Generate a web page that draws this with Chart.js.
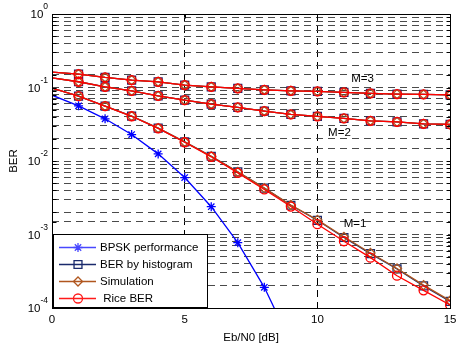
<!DOCTYPE html>
<html>
<head>
<meta charset="utf-8">
<script src="https://cdn.jsdelivr.net/npm/chart.js@4/dist/chart.umd.min.js"></script>
<style>
  html, body { margin: 0; padding: 0; background: #fff; }
  #wrap { width: 457px; height: 345px; position: relative; }
</style>
</head>
<body>
<div id="wrap"><canvas id="chart"></canvas></div>
<script>
// Eb/N0 in dB
const ebn0 = [0, 1, 2, 3, 4, 5, 6, 7, 8, 9, 10, 11, 12, 13, 14, 15]

// theoretical BPSK (AWGN)
const bpsk = [0.0786, 0.0563, 0.0375, 0.0229, 0.0125, 0.00595, 0.00239, 0.000773, 0.000191, 0.0000336]

// M=1
const histM1 = [0.098, 0.0763, 0.0558, 0.0408, 0.028, 0.0182, 0.0116, 0.0071, 0.00427, 0.0025, 0.00156, 0.00091, 0.00055, 0.00034, 0.0002, 0.000123]
const simM1  = [0.098, 0.0763, 0.0558, 0.0408, 0.028, 0.0182, 0.0116, 0.0071, 0.00428, 0.00252, 0.00158, 0.00093, 0.00056, 0.000345, 0.000205, 0.000126]
const riceM1 = [0.098, 0.0763, 0.0558, 0.0406, 0.0278, 0.018, 0.0114, 0.0069, 0.0041, 0.0024, 0.00138, 0.00081, 0.000484, 0.000275, 0.000174, 0.00011]

// M=2
const histM2 = [0.1356, 0.1197, 0.102, 0.090, 0.077, 0.0673, 0.0594, 0.0536, 0.0478, 0.043, 0.0404, 0.038, 0.0352, 0.0341, 0.032, 0.0314]
const riceM2 = [0.1356, 0.1197, 0.102, 0.090, 0.077, 0.0673, 0.0594, 0.0536, 0.0478, 0.043, 0.0404, 0.038, 0.0352, 0.0341, 0.032, 0.0314]

// M=3
const histM3 = [0.162, 0.152, 0.137, 0.126, 0.1196, 0.108, 0.102, 0.0973, 0.093, 0.0902, 0.0885, 0.0857, 0.083, 0.0813, 0.0805, 0.0792]
const riceM3 = [0.162, 0.152, 0.137, 0.126, 0.1196, 0.108, 0.102, 0.0973, 0.093, 0.0902, 0.0885, 0.0857, 0.083, 0.0813, 0.0805, 0.0792]

const xTicks = [0, 5, 10, 15]
const yDecades = [0, -1, -2, -3, -4]

const notes = [
  { text: 'M=3', x: 11.7, y: 0.13 },
  { text: 'M=2', x: 10.83, y: 0.024 },
  { text: 'M=1', x: 11.42, y: 0.0014 }
]

const legendItems = [
  { label: 'BPSK performance', color: '#4848ff', style: 'star' },
  { label: 'BER by histogram', color: '#1a2a6c', style: 'rect' },
  { label: 'Simulation', color: '#b0561e', style: 'rectRot' },
  { label: ' Rice BER', color: '#ff1a1a', style: 'circle' }
]

const FONT = "'Liberation Sans', Arial, Helvetica, sans-serif"

const toPoints = (vals) => vals.map((v, i) => ({ x: ebn0[i], y: v }))
const radii = (n, r) => ebn0.slice(0, n).map((x) => x === 0 ? 0 : r)

const series = (vals, color, style, r, order) => ({
  data: toPoints(vals),
  borderColor: color,
  backgroundColor: 'rgba(0,0,0,0)',
  borderWidth: 1.3,
  pointStyle: style,
  pointRadius: radii(vals.length, r),
  pointBorderColor: color,
  pointBackgroundColor: 'rgba(0,0,0,0)',
  pointBorderWidth: 1.3,
  tension: 0,
  order: order
})

const NAVY = '#1a2a6c'
const BROWN = '#b0561e'
const RED = '#ff0000'
const BLUE = '#0000ff'

const datasets = [
  series(bpsk, BLUE, 'star', 4.5, 0),
  series(histM1, NAVY, 'rect', 5.6, 3),
  series(histM2, NAVY, 'rect', 5.6, 3),
  series(histM3, NAVY, 'rect', 5.6, 3),
  series(simM1, BROWN, 'rectRot', 4.5, 2),
  series(histM2, BROWN, 'rectRot', 4.5, 2),
  series(histM3, BROWN, 'rectRot', 4.5, 2),
  series(riceM1, RED, 'circle', 4.5, 1),
  series(riceM2, RED, 'circle', 4.5, 1),
  series(riceM3, RED, 'circle', 4.5, 1)
]

const drawMarker = (ctx, style, color, x, y) => {
  Chart.helpers.drawPoint(ctx, {
    pointStyle: style,
    radius: style === 'rect' ? 5.6 : 4.5,
    borderWidth: 1.2,
    rotation: 0
  }, x, y)
}

const decorations = {
  id: 'decorations',
  afterDraw: (chart) => {
    const ctx = chart.ctx
    const area = chart.chartArea
    const xs = chart.scales.x
    const ys = chart.scales.y
    const L = Math.round(area.left) + 0.5
    const R = Math.round(area.right) + 0.5
    const T = Math.round(area.top) + 0.5
    const B = Math.round(area.bottom) + 0.5

    ctx.save()

    // plot box
    ctx.strokeStyle = '#000'
    ctx.lineWidth = 1
    ctx.setLineDash([])
    ctx.strokeRect(L, T, R - L, B - T)

    // inward tick marks on left and right
    ctx.beginPath()
    for (let i = 0; i < ys.ticks.length; i++) {
      const py = Math.round(ys.getPixelForValue(ys.ticks[i].value)) + 0.5
      ctx.moveTo(L, py); ctx.lineTo(L + 4, py)
      ctx.moveTo(R, py); ctx.lineTo(R - 4, py)
    }
    for (let i = 0; i < xTicks.length; i++) {
      const px = Math.round(xs.getPixelForValue(xTicks[i])) + 0.5
      ctx.moveTo(px, B); ctx.lineTo(px, B - 4)
      ctx.moveTo(px, T); ctx.lineTo(px, T + 4)
    }
    ctx.stroke()

    // y tick labels: 10^n
    ctx.fillStyle = '#000'
    ctx.textBaseline = 'middle'
    for (let i = 0; i < yDecades.length; i++) {
      const e = yDecades[i]
      const py = ys.getPixelForValue(Math.pow(10, e))
      const expText = e === 0 ? '0' : '-' + Math.abs(e)
      ctx.font = '8.5px ' + FONT
      const ew = ctx.measureText(expText).width
      ctx.textAlign = 'left'
      ctx.fillText(expText, area.left - 4 - ew, py - 7)
      ctx.font = '11.5px ' + FONT
      ctx.textAlign = 'right'
      ctx.fillText('10', area.left - 4 - ew, py + 1)
    }

    // y title
    ctx.save()
    ctx.translate(14, (area.top + area.bottom) / 2)
    ctx.rotate(-Math.PI / 2)
    ctx.textAlign = 'center'
    ctx.font = '11.5px ' + FONT
    ctx.fillText('BER', 0, 0)
    ctx.restore()

    // curve notes
    ctx.font = '11.5px ' + FONT
    ctx.textAlign = 'center'
    for (let i = 0; i < notes.length; i++) {
      const n = notes[i]
      ctx.fillText(n.text, xs.getPixelForValue(n.x), ys.getPixelForValue(n.y))
    }

    // legend box
    const lx = area.left + 1, ly = 234, lw = 154, lh = 73
    ctx.fillStyle = '#fff'
    ctx.fillRect(lx, ly, lw, lh)
    ctx.strokeStyle = '#000'
    ctx.lineWidth = 1
    ctx.strokeRect(lx + 0.5, ly + 0.5, lw, lh)

    for (let i = 0; i < legendItems.length; i++) {
      const item = legendItems[i]
      const ry = 247.5 + i * 17
      ctx.strokeStyle = item.color
      ctx.lineWidth = 1.3
      ctx.beginPath()
      ctx.moveTo(lx + 6, ry)
      ctx.lineTo(lx + 43, ry)
      ctx.stroke()
      ctx.fillStyle = 'rgba(0,0,0,0)'
      drawMarker(ctx, item.style, item.color, lx + 25, ry)
      ctx.fillStyle = '#000'
      ctx.font = '11.5px ' + FONT
      ctx.textAlign = 'left'
      ctx.textBaseline = 'middle'
      ctx.fillText(item.label, lx + 47, ry + 0.5)
    }

    ctx.restore()
  }
}

const chart = new Chart(document.getElementById('chart'), {
  type: 'line',
  data: { datasets: datasets },
  options: {
    animation: false,
    responsive: true,
    maintainAspectRatio: false,
    devicePixelRatio: 1,
    layout: { padding: { top: 14, right: 6, left: 0, bottom: 0 } },
    plugins: {
      legend: { display: false },
      tooltip: { enabled: false }
    },
    scales: {
      x: {
        type: 'linear',
        min: 0,
        max: 15,
        afterBuildTicks: (scale) => {
          scale.ticks = xTicks.map((v) => ({ value: v }))
        },
        afterFit: (scale) => {
          scale.height = 37
          scale.paddingRight = 0
          scale.paddingLeft = 0
        },
        grid: {
          drawTicks: false,
          lineWidth: 1,
          color: (ctx) => (ctx.tick && (ctx.tick.value === 5 || ctx.tick.value === 10)) ? '#000' : 'rgba(0,0,0,0)'
        },
        border: { display: false, dash: [7, 5] },
        ticks: {
          color: '#000',
          padding: 5,
          font: { family: FONT, size: 11.5 },
          maxRotation: 0
        },
        title: {
          display: true,
          text: 'Eb/N0 [dB]',
          color: '#000',
          padding: { top: 1, bottom: 0 },
          font: { family: FONT, size: 11.5 }
        }
      },
      y: {
        type: 'logarithmic',
        min: 0.0001,
        max: 1,
        afterFit: (scale) => { scale.width = 52 },
        grid: {
          drawTicks: false,
          lineWidth: 1,
          color: '#4a4a4a'
        },
        border: { display: false, dash: [7, 5] },
        ticks: { display: false, autoSkip: false }
      }
    }
  },
  plugins: [decorations]
})
</script>
</body>
</html>
